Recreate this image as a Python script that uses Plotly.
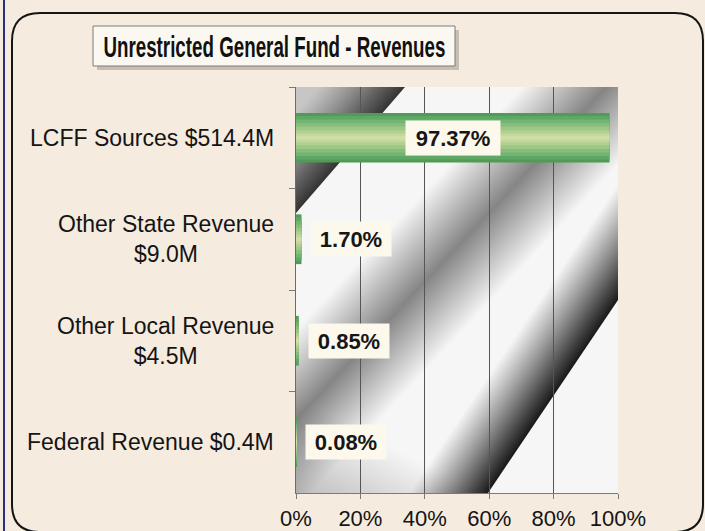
import base64
import plotly.graph_objects as go

# ---- data ----
sources = ["LCFF Sources", "Other State Revenue", "Other Local Revenue", "Federal Revenue"]
source_labels = ["LCFF Sources $514.4M", "Other State Revenue<br>$9.0M",
                 "Other Local Revenue<br>$4.5M", "Federal Revenue $0.4M"]
percents = [97.37, 1.70, 0.85, 0.08]
x_ticks = [0, 20, 40, 60, 80, 100]
x_tick_labels = ["0%", "20%", "40%", "60%", "80%", "100%"]
title_text = "Unrestricted General Fund - Revenues"

# ---- geometry of the page ----
W, H = 705, 531
L, R, T, B = 296, 618, 87, 493   # plot area in pixels
PW, PH = R - L, B - T


def P(px, py):
    """pixel -> paper coordinates"""
    return (px - L) / PW, (B - py) / PH


def rounded_rect(x0, y0, x1, y1, r):
    def p(px, py):
        fx, fy = P(px, py)
        return f"{fx:.4f},{fy:.4f}"
    return (f"M{p(x0 + r, y0)} L{p(x1 - r, y0)} Q{p(x1, y0)} {p(x1, y0 + r)} "
            f"L{p(x1, y1 - r)} Q{p(x1, y1)} {p(x1 - r, y1)} L{p(x0 + r, y1)} "
            f"Q{p(x0, y1)} {p(x0, y1 - r)} L{p(x0, y0 + r)} Q{p(x0, y0)} {p(x0 + r, y0)} Z")


# decorative shaded background of the plot area (SVG gradients, plot-local pixels)
bg_svg = f"""<svg xmlns='http://www.w3.org/2000/svg' width='{PW}' height='{PH}' viewBox='0 0 {PW} {PH}' preserveAspectRatio='none'>
<defs>
<linearGradient id='ga' gradientUnits='userSpaceOnUse' x1='54.5' y1='63' x2='5' y2='20'>
 <stop offset='0' stop-color='#111' stop-opacity='0.85'/>
 <stop offset='0.3' stop-color='#222' stop-opacity='0.7'/>
 <stop offset='1' stop-color='#555' stop-opacity='0.3'/>
</linearGradient>
<linearGradient id='gb' gradientUnits='userSpaceOnUse' x1='118' y1='116' x2='208' y2='200'>
 <stop offset='0' stop-color='#3a3a3a' stop-opacity='0'/>
 <stop offset='0.5' stop-color='#3a3a3a' stop-opacity='0.6'/>
 <stop offset='1' stop-color='#3a3a3a' stop-opacity='0'/>
</linearGradient>
<linearGradient id='gc' gradientUnits='userSpaceOnUse' x1='257' y1='309.5' x2='203' y2='273'>
 <stop offset='0' stop-color='#0d0d0d' stop-opacity='0.95'/>
 <stop offset='0.2' stop-color='#1a1a1a' stop-opacity='0.8'/>
 <stop offset='1' stop-color='#333' stop-opacity='0'/>
</linearGradient>
<linearGradient id='gd' gradientUnits='userSpaceOnUse' x1='0' y1='406' x2='40' y2='330'>
 <stop offset='0' stop-color='#555' stop-opacity='0.35'/>
 <stop offset='1' stop-color='#555' stop-opacity='0'/>
</linearGradient>
</defs>
<rect x='0' y='0' width='{PW}' height='{PH}' fill='#f6f6f6'/>
<rect x='0' y='0' width='{PW}' height='{PH}' fill='url(#gb)'/>
<rect x='0' y='0' width='{PW}' height='{PH}' fill='url(#gd)'/>
<polygon points='0,126 109,0 0,0' fill='url(#ga)'/>
<polygon points='192,406 322,213 322,0 0,0 0,406' fill='url(#gc)'/>
</svg>"""
bg_uri = "data:image/svg+xml;base64," + base64.b64encode(bg_svg.encode()).decode()

fig = go.Figure()

# bar drawn in layered greens to imitate the cylindrical gradient
layers = [(0.49, "#4f9b57"), (0.43, "#5ea865"), (0.36, "#72b471"), (0.29, "#86bd7c"),
          (0.22, "#9cc786"), (0.15, "#b0d090"), (0.09, "#c2d79b"), (0.04, "#cfdea5")]
for wdt, col in layers:
    fig.add_trace(go.Bar(
        x=percents, y=sources, orientation="h", width=wdt,
        marker=dict(color=col, line=dict(width=0)),
        hoverinfo="skip", showlegend=False))

shapes = []
# outer rounded frame & scanner edge
shapes.append(dict(type="path", xref="paper", yref="paper", layer="below",
                   path=rounded_rect(12, 13, 703, 532, 28),
                   line=dict(color="#151515", width=2)))
x0f, _ = P(4, 0)
shapes.append(dict(type="line", xref="paper", yref="paper", layer="below",
                   x0=x0f, x1=x0f, y0=P(0, 0)[1], y1=P(0, H)[1],
                   line=dict(color="#2b2e80", width=2)))
# title box with shadow
s0 = P(97, 30); s1 = P(459, 70)
shapes.append(dict(type="rect", xref="paper", yref="paper", layer="below",
                   x0=s0[0], y0=s0[1], x1=s1[0], y1=s1[1],
                   fillcolor="rgba(120,105,95,0.35)", line=dict(width=0)))
b0 = P(93, 26); b1 = P(455, 66)
shapes.append(dict(type="rect", xref="paper", yref="paper", layer="below",
                   x0=b0[0], y0=b0[1], x1=b1[0], y1=b1[1],
                   fillcolor="#fbf8f1", line=dict(color="#7a7a7a", width=1)))

images = [dict(source=bg_uri, xref="paper", yref="paper", x=0, y=1, sizex=1, sizey=1,
               xanchor="left", yanchor="top", sizing="stretch", layer="below")]

annotations = []
# title
tx, ty = P(274, 46)
annotations.append(dict(xref="paper", yref="paper", x=tx, y=ty, showarrow=False,
                        text=f"<b>{title_text}</b>", xanchor="center", yanchor="middle",
                        font=dict(family="Liberation Sans, Arial", size=30, color="#111111")))
# category labels
for src, lab in zip(sources, source_labels):
    annotations.append(dict(xref="paper", yref="y", x=0, y=src, xshift=-20,
                            xanchor="right", yanchor="middle", align="center",
                            showarrow=False, text=lab,
                            font=dict(family="Liberation Sans, Arial", size=23, color="#141414")))
# value labels
for src, p in zip(sources, percents):
    txt = f"{p:.2f}%"
    big = p > 50
    annotations.append(dict(xref="x", yref="y", x=p / 2 if big else p, y=src,
                            xanchor="center" if big else "left",
                            xshift=0 if big else 9, yanchor="middle",
                            showarrow=False, text=f"<b>{txt}</b>",
                            bgcolor="#fcf8ec", borderpad=0,
                            width=14 * len(txt) + 10, height=34,
                            font=dict(family="Liberation Sans, Arial", size=22, color="#161616")))

fig.update_layout(
    width=W, height=H, autosize=False,
    margin=dict(l=L, r=W - R, t=T, b=H - B, pad=0, autoexpand=False),
    paper_bgcolor="#f5ebdf", plot_bgcolor="rgba(0,0,0,0)",
    barmode="overlay", showlegend=False,
    shapes=shapes, annotations=annotations, images=images,
    xaxis=dict(range=[0, 100], tickvals=x_ticks, ticktext=x_tick_labels,
               showgrid=True, gridcolor="#555555", gridwidth=1, zeroline=False,
               showline=True, linecolor="#7a7a7a", linewidth=1, automargin=False,
               ticks="outside", ticklen=5, tickcolor="#7a7a7a", ticklabelstandoff=1,
               tickfont=dict(family="Liberation Sans, Arial", size=22, color="#141414"),
               fixedrange=True),
    yaxis=dict(categoryorder="array", categoryarray=sources, autorange="reversed",
               showticklabels=False, showgrid=False, zeroline=False, automargin=False,
               showline=True, linecolor="#6a6a6a", linewidth=1,
               ticks="outside", ticklen=6, tickcolor="#7a7a7a", tickson="boundaries",
               fixedrange=True),
)

post = """
document.body.style.margin = '0';
document.body.style.overflow = 'hidden';
var tt = document.querySelectorAll('text.annotation-text');
tt.forEach(function(t){
  if (t.textContent.indexOf('Unrestricted') === 0) {
    t.setAttribute('textLength', '342');
    t.setAttribute('lengthAdjust', 'spacingAndGlyphs');
  }
});
"""
fig.write_html("out.html", config={"displayModeBar": False}, post_script=post)
